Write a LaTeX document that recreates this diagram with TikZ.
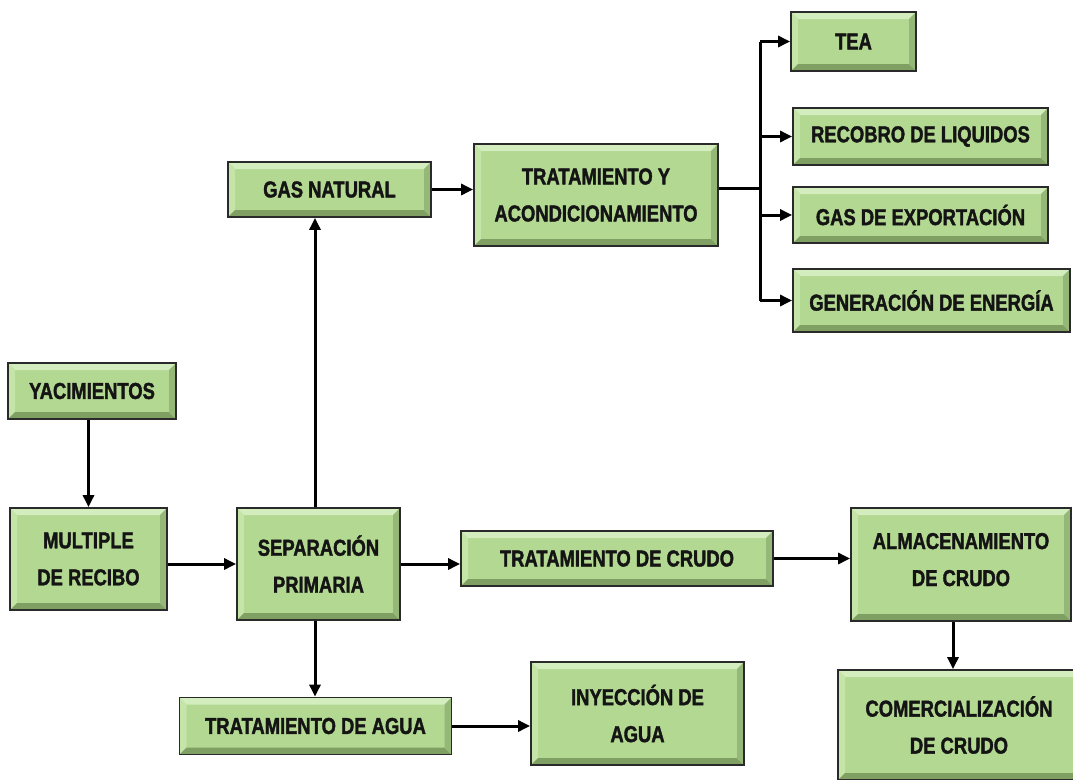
\documentclass[tikz,border=0pt]{standalone}
\usepackage{fontspec}
\newfontfamily\boxfamily{Liberation Sans}[FakeStretch=0.8, BoldFeatures={FakeBold=1.6}]
\usetikzlibrary{arrows.meta,calc}
\definecolor{boxfill}{HTML}{B2D891}
\definecolor{bevtop}{HTML}{D3EDBE}
\definecolor{bevleft}{HTML}{C4E4A8}
\definecolor{bevbot}{HTML}{7F9F63}
\definecolor{bevright}{HTML}{95B878}
\definecolor{boxborder}{HTML}{2A2A2A}
\tikzset{
  box/.style={draw=boxborder, line width=1.8pt, fill=boxfill, align=center, inner sep=2pt,
    font=\boxfamily\bfseries\fontsize{23}{37}\selectfont, text=black!92,
    path picture={
      \path (path picture bounding box.north west) coordinate (pnw)
            (path picture bounding box.south east) coordinate (pse)
            (path picture bounding box.north east) coordinate (pne)
            (path picture bounding box.south west) coordinate (psw);
      \fill[bevtop] (pnw) -- (pne) -- ([shift={(-7pt,-7pt)}]pne) -- ([shift={(7pt,-7pt)}]pnw) -- cycle;
      \fill[bevleft] (pnw) -- ([shift={(7pt,-7pt)}]pnw) -- ([shift={(7pt,7pt)}]psw) -- (psw) -- cycle;
      \fill[bevbot] (psw) -- (pse) -- ([shift={(-7pt,7pt)}]pse) -- ([shift={(7pt,7pt)}]psw) -- cycle;
      \fill[bevright] (pne) -- (pse) -- ([shift={(-7pt,7pt)}]pse) -- ([shift={(-7pt,-7pt)}]pne) -- cycle;
    }},
  conn/.style={line width=3pt, draw=black},
  arr/.style={conn, -{Triangle[length=12pt,width=11pt]}},
}
\begin{document}
\begin{tikzpicture}[x=1pt,y=-1pt]
\useasboundingbox (0,0) rectangle (1073,779);
\clip (0,0) rectangle (1073,779);
\node[box, minimum width=125, minimum height=59] (tea) at (853.5,41.5) {TEA};
\node[box, minimum width=255, minimum height=57] (rec) at (920.5,136.5) {RECOBRO DE LIQUIDOS};
\node[box, minimum width=255, minimum height=56] (gexp) at (920.5,215) {GAS DE EXPORTACIÓN};
\node[box, minimum width=277, minimum height=63] (gen) at (931.5,300.5) {GENERACIÓN DE ENERGÍA};
\node[box, minimum width=203, minimum height=55] (gasn) at (329.5,189.5) {GAS NATURAL};
\node[box, minimum width=244, minimum height=102] (trat) at (596,195) {TRATAMIENTO Y\\ACONDICIONAMIENTO};
\node[box, minimum width=168, minimum height=56] (yac) at (92,391) {YACIMIENTOS};
\node[box, minimum width=157, minimum height=102] (mult) at (88.5,559) {MULTIPLE\\DE RECIBO};
\node[box, minimum width=163, minimum height=112] (sep) at (318.5,564) {SEPARACIÓN\\PRIMARIA};
\node[box, minimum width=312, minimum height=55] (tcru) at (617,558.5) {TRATAMIENTO DE CRUDO};
\node[box, minimum width=220, minimum height=113, text depth=10pt] (alm) at (961,564.5) {ALMACENAMIENTO\\DE CRUDO};
\node[box, minimum width=242, minimum height=110] (com) at (959,725) {COMERCIALIZACIÓN\\DE CRUDO};
\node[box, minimum width=272, minimum height=57] (tag) at (315.5,726) {TRATAMIENTO DE AGUA};
\node[box, minimum width=213, minimum height=103] (iny) at (637.5,713.5) {INYECCIÓN DE\\AGUA};
% connectors
\draw[arr] (yac.south -| mult.north) -- (mult.north);
\draw[arr] (mult.east |- sep.west) -- (sep.west);
\draw[arr] ([xshift=-3.5pt]sep.north) -- ([xshift=-3.5pt]sep.north |- gasn.south);
\draw[arr] ([xshift=-3.5pt]sep.south) -- ([xshift=-3.5pt]sep.south |- tag.north);
\draw[arr] (sep.east) -- (sep.east -| tcru.west);
\draw[arr] (tcru.east) -- (tcru.east -| alm.west);
\draw[arr] ([xshift=-8pt]alm.south) -- ([xshift=-8pt]alm.south |- com.north);
\draw[arr] (tag.east) -- (tag.east -| iny.west);
\draw[arr] (gasn.east) -- (gasn.east -| trat.west);
\coordinate (trunk) at (760,188);
\draw[conn] (trunk -| trat.east) -- (trunk);
\draw[conn] (trunk |- tea.west) -- (trunk |- gen.west);
\draw[arr] (trunk |- tea.west) -- (tea.west);
\draw[arr] (trunk |- rec.west) -- (rec.west);
\draw[arr] (trunk |- gexp.west) -- (gexp.west);
\draw[arr] (trunk |- gen.west) -- (gen.west);
\end{tikzpicture}
\end{document}
